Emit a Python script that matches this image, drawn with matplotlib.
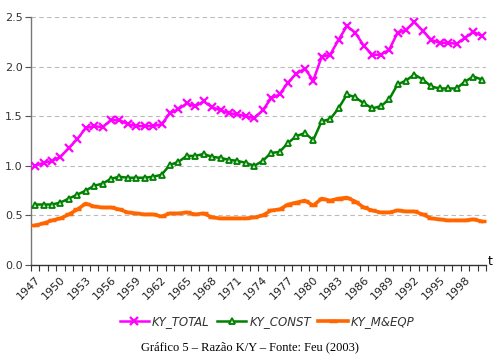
import matplotlib
matplotlib.use("Agg")
import matplotlib.pyplot as plt
import numpy as np

years = list(range(1947, 2001))
ky_total = [1.00, 1.03, 1.05, 1.09, 1.18, 1.27, 1.38, 1.40, 1.39, 1.46,
            1.46, 1.42, 1.40, 1.40, 1.40, 1.42, 1.53, 1.57, 1.63, 1.60,
            1.65, 1.59, 1.56, 1.53, 1.52, 1.50, 1.48, 1.56, 1.68, 1.72,
            1.84, 1.93, 1.98, 1.86, 2.10, 2.12, 2.27, 2.41, 2.34, 2.21,
            2.12, 2.12, 2.17, 2.34, 2.37, 2.45, 2.36, 2.27, 2.24, 2.24,
            2.23, 2.29, 2.35, 2.31]
ky_const = [0.61, 0.61, 0.61, 0.63, 0.67, 0.71, 0.75, 0.80, 0.82, 0.87,
            0.89, 0.88, 0.88, 0.88, 0.89, 0.91, 1.01, 1.04, 1.10, 1.10,
            1.12, 1.09, 1.08, 1.06, 1.05, 1.03, 1.00, 1.05, 1.13, 1.14,
            1.23, 1.30, 1.33, 1.26, 1.45, 1.47, 1.58, 1.72, 1.69, 1.63,
            1.58, 1.60, 1.67, 1.82, 1.86, 1.92, 1.87, 1.80, 1.78, 1.78,
            1.78, 1.85, 1.90, 1.87]
ky_meqp = [0.40, 0.42, 0.45, 0.47, 0.51, 0.56, 0.62, 0.59, 0.58, 0.58,
           0.56, 0.53, 0.52, 0.51, 0.51, 0.49, 0.52, 0.52, 0.53, 0.51,
           0.52, 0.48, 0.47, 0.47, 0.47, 0.47, 0.48, 0.50, 0.55, 0.56,
           0.61, 0.63, 0.65, 0.60, 0.67, 0.65, 0.67, 0.68, 0.64, 0.58,
           0.55, 0.53, 0.53, 0.55, 0.54, 0.54, 0.51, 0.47, 0.46, 0.45,
           0.45, 0.45, 0.46, 0.44]
series_names = ["KY_TOTAL", "KY_CONST", "KY_M&EQP"]
yticks = [0.0, 0.5, 1.0, 1.5, 2.0, 2.5]
caption = "Gráfico 5 – Razão K/Y – Fonte: Feu (2003)"

fig = plt.figure(figsize=(4.99, 3.55), dpi=100)
ax = fig.add_axes([0.062, 0.2535, 0.912, 0.6985])

x = np.arange(len(years))
ax.plot(x, ky_total, color="#FF00FF", lw=1.8, marker="x", ms=6, mew=1.6,
        label=series_names[0], zorder=3)
ax.plot(x, ky_const, color="#008000", lw=1.8, marker="^", ms=4.5, mew=1.3,
        mfc="#c8e6c8", mec="#008000", label=series_names[1], zorder=3)
ax.plot(x, ky_meqp, color="#FF6600", lw=2.6, marker="_", ms=6, mew=2.5,
        label=series_names[2], zorder=3)

ax.set_xlim(-0.5, len(years) - 0.5)
ax.set_ylim(0, 2.5)
ax.set_yticks(yticks)
ax.set_yticklabels([f"{v:.1f}" for v in yticks], fontsize=8, color="#333333")
for v in yticks[1:]:
    ax.axhline(v, color="#bbbbbb", lw=0.8, ls=(0, (4, 3)), zorder=1)

# category boundaries as ticks, labels every 3 years at category centres
ax.set_xticks(np.arange(-0.5, len(years)), minor=True)
ax.tick_params(axis="x", which="minor", length=4, width=0.8, direction="out",
               color="#333333")
lab_idx = [i for i in range(len(years)) if (years[i] - 1947) % 3 == 0]
ax.set_xticks(lab_idx)
ax.set_xticklabels([str(years[i]) for i in lab_idx], rotation=45,
                   ha="right", va="top", rotation_mode="anchor", fontsize=8,
                   color="#222222")
ax.tick_params(axis="x", which="major", length=0, pad=7)
ax.tick_params(axis="y", length=4, width=0.8, color="#555555", pad=2)

for s in ["top", "right"]:
    ax.spines[s].set_visible(False)
ax.spines["left"].set_color("#777777")
ax.spines["bottom"].set_color("#333333")
ax.spines["left"].set_linewidth(1.0)
ax.spines["bottom"].set_linewidth(1.0)

fig.text(0.978, 0.262, "t", fontsize=9, ha="left", va="center")

leg = fig.legend(loc="center", bbox_to_anchor=(0.535, 0.093), ncol=3,
                 frameon=False, fontsize=8.5, handlelength=2.5,
                 columnspacing=0.6, handletextpad=0.25)
for t in leg.get_texts():
    t.set_fontstyle("italic")
    t.set_color("#333333")

fig.text(0.5, 0.006, caption, fontsize=9, ha="center", va="bottom",
         family="Liberation Serif")

fig.savefig("out.png", dpi=100)
